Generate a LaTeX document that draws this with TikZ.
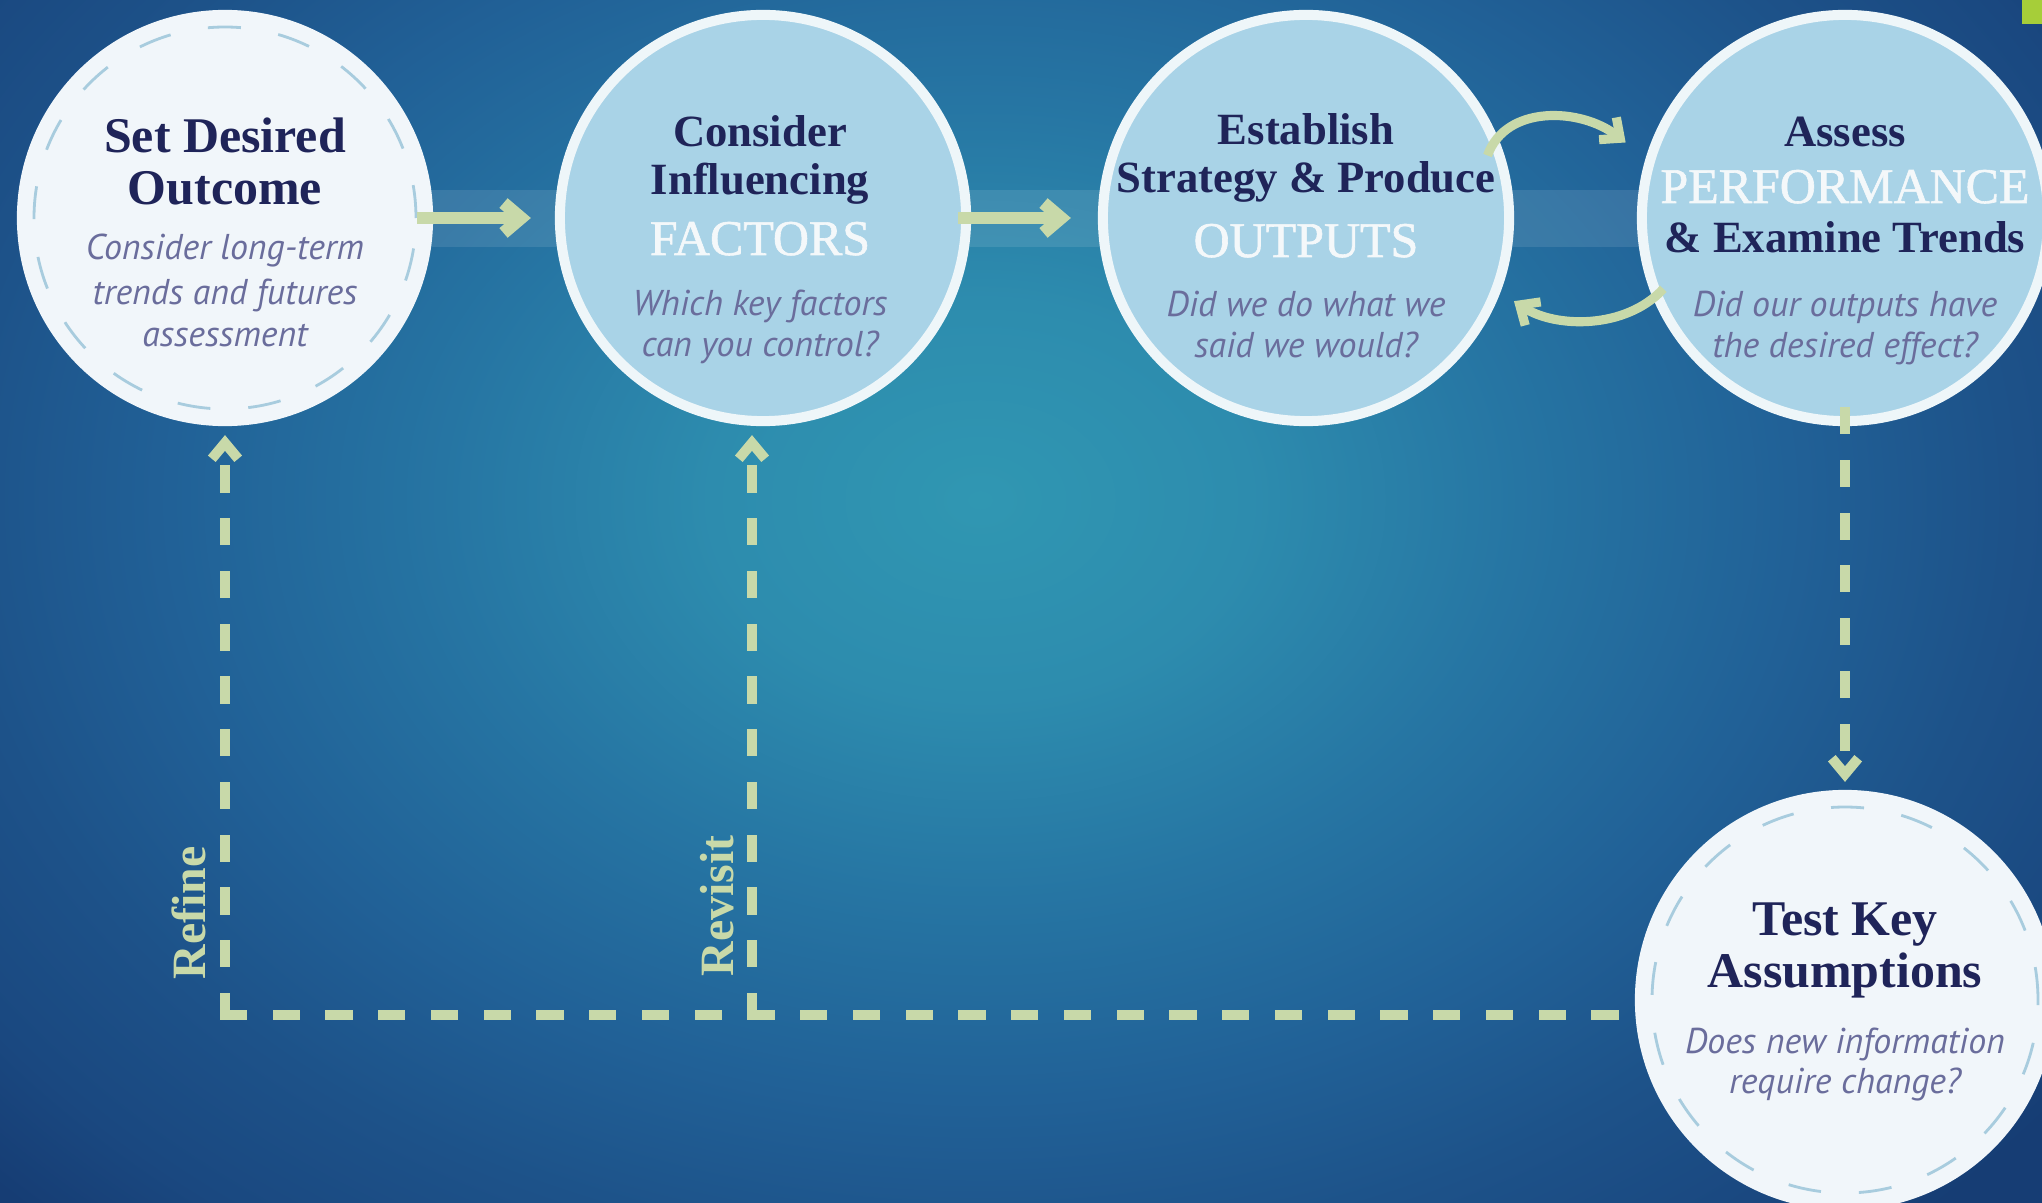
\documentclass[tikz,border=0pt]{standalone}
\usepackage{fontspec}
\setmainfont{Liberation Serif}
\newfontfamily\itfont{PT Sans}
\newfontfamily\capfont[FakeBold=1.2]{Liberation Serif}
\usetikzlibrary{arrows.meta,calc}
\definecolor{bgA}{HTML}{3097B2}
\definecolor{bgB}{HTML}{2D8CAE}
\definecolor{bgC}{HTML}{2675A3}
\definecolor{bgD}{HTML}{216197}
\definecolor{bgE}{HTML}{1D5289}
\definecolor{bgF}{HTML}{1A4880}
\definecolor{bgG}{HTML}{163D74}
\definecolor{navy}{HTML}{1F2459}
\definecolor{itcol}{HTML}{6A6D9C}
\definecolor{capcol}{HTML}{F4F8FA}
\definecolor{leaf}{HTML}{C8D9A9}
\definecolor{lblue}{HTML}{A9D3E7}
\definecolor{rim}{HTML}{EEF6F9}
\definecolor{paleC}{HTML}{F1F6FA}
\definecolor{dashC}{HTML}{A8CCDE}
\definecolor{lime}{HTML}{A6CE39}
\pgfdeclareradialshading{bgshade}{\pgfpoint{0bp}{0bp}}{color(0bp)=(bgA); color(5bp)=(bgB); color(10bp)=(bgC); color(15bp)=(bgD); color(19bp)=(bgE); color(22.5bp)=(bgF); color(25bp)=(bgG); color(50bp)=(bgG)}
\begin{document}
\begin{tikzpicture}[x=0.01cm,y=0.01cm,
  whitecirc/.style={circle, fill=paleC, minimum size=4.16cm, inner sep=0pt, outer sep=0pt},
  bluecirc/.style={circle, fill=lblue, draw=rim, line width=2.85pt, minimum size=4.06cm, inner sep=0pt},
  innerdash/.style={draw=dashC, line width=0.8pt, dash pattern=on 9.4pt off 10.8pt},
  flow/.style={draw=leaf, line width=3.6pt, -{Straight Barb[length=5pt,width=8.5pt]}},
  curveflow/.style={draw=leaf, line width=2.6pt, -{Straight Barb[length=4.5pt,width=8pt]}},
  dashline/.style={draw=leaf, line width=2.85pt, line cap=rect, dash pattern=on 4.84pt off 10.16pt},
  dtip/.style={-{Straight Barb[length=4.5pt,width=7.5pt]}},
  headbig/.style={text=navy, anchor=base, inner sep=0pt, font=\bfseries\fontsize{14.2pt}{16pt}\selectfont},
  head/.style={text=navy, anchor=base, inner sep=0pt, font=\bfseries\fontsize{12.7pt}{14pt}\selectfont},
  capw/.style={text=capcol, anchor=base, inner sep=0pt, font=\capfont\fontsize{14.2pt}{16pt}\selectfont},
  ital/.style={text=itcol, anchor=base, inner sep=0pt, font=\itfont\itshape\fontsize{10.2pt}{12pt}\selectfont},
  lbl/.style={text=leaf, inner sep=0pt, font=\bfseries\fontsize{13.6pt}{15pt}\selectfont}
]
\useasboundingbox (0,0) rectangle (2042,1202);
% background
\begin{scope}
\clip (0,0) rectangle (2042,1202);
\fill[bgG] (0,0) rectangle (2042,1202);
\shade[shading=bgshade] (-370,-298) rectangle (2330,1702);
\end{scope}
\fill[lime] (2022,1178) rectangle (2042,1202);
% light band
\fill[white,opacity=0.1] (225,955) rectangle (1845,1012);

% circles
\node[whitecirc] (c1) at (225,984) {};
\node[bluecirc] (c2) at (763,984) {};
\node[bluecirc] (c3) at (1306,984) {};
\node[bluecirc] (c4) at (1845,984) {};
\node[whitecirc, minimum size=4.2cm] (c5) at (1845,202) {};
\draw[innerdash] (c1.center) circle[radius=191];
\draw[innerdash] (c5.center) circle[radius=193];

% straight arrows
\coordinate (a1s) at ($(c1.east)+(-16,0)$);
\coordinate (a1t) at ($(c2.west)+(-24,0)$);
\draw[flow] (a1s) -- (a1t);
\coordinate (a2s) at ($(c2.east)+(-13,0)$);
\coordinate (a2t) at ($(c3.west)+(-27,0)$);
\draw[flow] (a2s) -- (a2t);

% curved arrows between c3 and c4
\coordinate (u1) at ($(c3.center)+(19:192)$);
\coordinate (u2) at ($(c4.center)+(161:232)$);
\draw[curveflow] (u1) .. controls +(18,51) and +(-45,35) .. (u2);
\coordinate (l1) at ($(c4.center)+(201.3:195)$);
\coordinate (l2) at ($(c3.center)+(-21.8:224)$);
\draw[curveflow] (l1) .. controls +(-38,-41) and +(41,-27) .. (l2);

% dashed connectors
\coordinate (d4) at ($(c4.south)+(0,14)$);
\coordinate (d5) at ($(c5.north)+(0,8)$);
\draw[dashline,dtip] (d4) -- (d5);
\coordinate (k1) at (225,187);
\coordinate (k2) at (752,187);
\coordinate (r1) at ($(c1.south)+(0,-9)$);
\coordinate (r2) at (k2 |- r1);
\coordinate (e5) at ($(c5.west |- k1)+(-10,0)$);
\draw[dashline] (k1) -- (e5);
\draw[dashline,dtip] (k1) -- (r1);
\draw[dashline,dtip] (k2) -- (r2);
\node[lbl, rotate=90] (refine) at (189,289) {Refine};
\node[lbl, rotate=90] (revisit) at (717,296) {Revisit};

% texts circle 1
\node[headbig] (t1a) at (225,1049) {Set Desired};
\node[headbig] (t1b) at (225,997) {Outcome};
\node[ital] (t1c) at (225,942) {Consider long-term};
\node[ital] (t1d) at (225,897) {trends and futures};
\node[ital] (t1e) at (225,855) {assessment};
% circle 2
\node[head] (t2a) at (760,1055) {Consider};
\node[head] (t2b) at (760,1007) {Influencing};
\node[capw] (t2c) at (760,947) {FACTORS};
\node[ital] (t2d) at (760,886) {Which key factors};
\node[ital] (t2e) at (760,845) {can you control?};
% circle 3
\node[head] (t3a) at (1306,1057) {Establish};
\node[head] (t3b) at (1306,1009) {Strategy \& Produce};
\node[capw] (t3c) at (1306,945) {OUTPUTS};
\node[ital] (t3d) at (1306,885) {Did we do what we};
\node[ital] (t3e) at (1306,844) {said we would?};
% circle 4
\node[head] (t4a) at (1845,1055) {Assess};
\node[capw] (t4b) at (1845,999) {PERFORMANCE};
\node[head] (t4c) at (1845,949) {\& Examine Trends};
\node[ital] (t4d) at (1845,885) {Did our outputs have};
\node[ital] (t4e) at (1845,844) {the desired effect?};
% circle 5
\node[headbig] (t5a) at (1845,267) {Test Key};
\node[headbig] (t5b) at (1845,215) {Assumptions};
\node[ital] (t5c) at (1845,149) {Does new information};
\node[ital] (t5d) at (1845,109) {require change?};
\end{tikzpicture}
\end{document}
